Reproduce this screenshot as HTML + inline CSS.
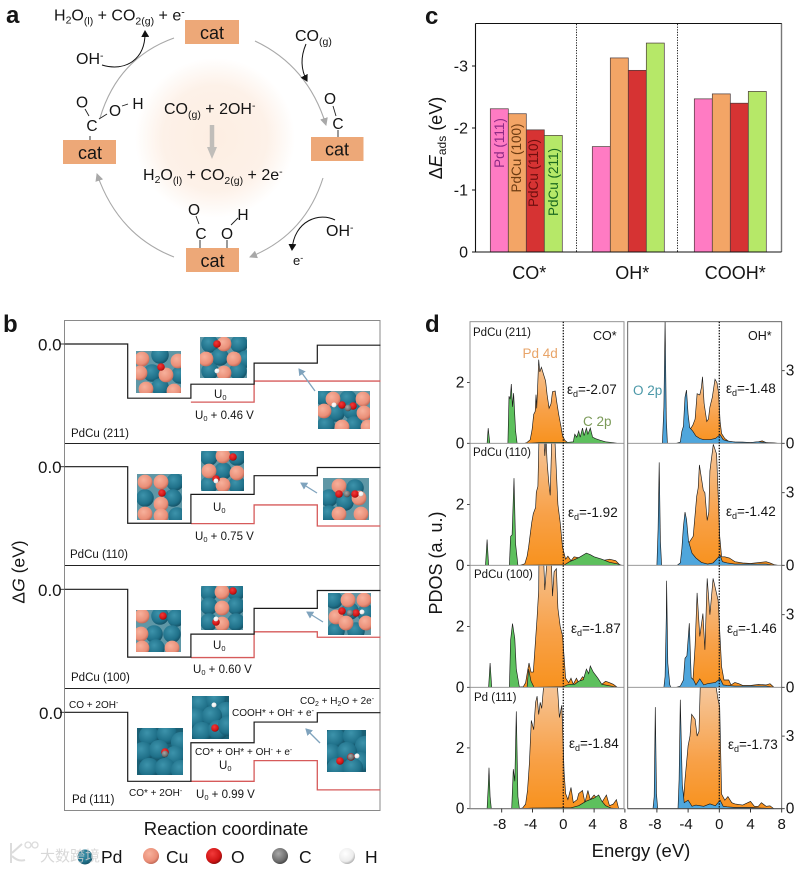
<!DOCTYPE html>
<html lang="en"><head><meta charset="utf-8"><title>CO oxidation on Pd and PdCu surfaces</title>
<style>
html,body{margin:0;padding:0;background:#fff}
svg{display:block;font-family:"Liberation Sans","Noto Sans CJK SC",sans-serif}
text{fill:#151515}
</style></head><body>
<svg id="fig" xmlns="http://www.w3.org/2000/svg" width="809" height="869" viewBox="0 0 809 869">
<defs>
<radialGradient id="glow"><stop offset="0" stop-color="#fdeee2"/><stop offset=".65" stop-color="#fdf1e8"/><stop offset="1" stop-color="#ffffff"/></radialGradient>
<linearGradient id="orangeFill" x1="0" y1="0" x2="0" y2="1"><stop offset="0" stop-color="#f5c79c"/><stop offset=".6" stop-color="#f8a148"/><stop offset="1" stop-color="#f8921e"/></linearGradient>
<radialGradient id="atomPd" cx=".4" cy=".35" r=".7"><stop offset="0" stop-color="#3d93ab"/><stop offset=".7" stop-color="#1f7089"/><stop offset="1" stop-color="#124c60"/></radialGradient>
<radialGradient id="atomCu" cx=".4" cy=".35" r=".7"><stop offset="0" stop-color="#f7b19c"/><stop offset=".7" stop-color="#ea8f78"/><stop offset="1" stop-color="#b9604f"/></radialGradient>
<radialGradient id="atomO" cx=".4" cy=".35" r=".7"><stop offset="0" stop-color="#f23a3a"/><stop offset=".7" stop-color="#d01414"/><stop offset="1" stop-color="#7d0a0a"/></radialGradient>
<radialGradient id="atomC" cx=".4" cy=".35" r=".7"><stop offset="0" stop-color="#a8a8a8"/><stop offset=".7" stop-color="#6d6d6d"/><stop offset="1" stop-color="#3c3c3c"/></radialGradient>
<radialGradient id="atomH" cx=".4" cy=".35" r=".7"><stop offset="0" stop-color="#ffffff"/><stop offset=".7" stop-color="#ececec"/><stop offset="1" stop-color="#a2a2a2"/></radialGradient>
<marker id="grayHead" markerWidth="9" markerHeight="8" refX="7" refY="4" orient="auto" markerUnits="userSpaceOnUse"><path d="M0,0L8,4L0,8Z" fill="#a8a8a8"/></marker>
<marker id="blackHead" markerWidth="8" markerHeight="8" refX="6" refY="4" orient="auto" markerUnits="userSpaceOnUse"><path d="M0,0L7,4L0,8Z" fill="#111"/></marker>
<marker id="blueHead" markerWidth="8" markerHeight="8" refX="6" refY="4" orient="auto" markerUnits="userSpaceOnUse"><path d="M0,0L7,4L0,8Z" fill="#7fa3bd"/></marker>
</defs>

<!-- PANEL A -->
<g id="panel-a">
<text x="6" y="23" font-size="24" font-weight="bold">a</text>
<circle cx="215" cy="138" r="80" fill="url(#glow)"/>
<path d="M174,38Q118,58 100,118" fill="none" stroke="#a8a8a8" stroke-width="1.1"/>
<path d="M174,257Q118,235 97,174" fill="none" stroke="#a8a8a8" stroke-width="1.1" marker-end="url(#grayHead)"/>
<path d="M255,41Q308,66 326,125" fill="none" stroke="#a8a8a8" stroke-width="1.1" marker-end="url(#grayHead)"/>
<path d="M323,178Q305,235 250,257" fill="none" stroke="#a8a8a8" stroke-width="1.1" marker-end="url(#grayHead)"/>
<path d="M102,65C125,72 146,60 145,31" fill="none" stroke="#111" stroke-width="1" marker-end="url(#blackHead)"/>
<path d="M306,44C300,58 301,70 307,81" fill="none" stroke="#111" stroke-width="1" marker-end="url(#blackHead)"/>
<path d="M335,220C320,212 294,220 292,250" fill="none" stroke="#111" stroke-width="1" marker-end="url(#blackHead)"/>
<path d="M212,125V148" stroke="#c0bdb9" stroke-width="4.5" fill="none"/>
<path d="M207,147h10l-5,12z" fill="#c0bdb9"/>
<g fill="#eda878">
<rect x="185" y="20" width="54" height="24"/>
<rect x="63" y="140" width="53" height="24"/>
<rect x="311" y="137" width="52.500" height="24"/>
<rect x="186" y="248" width="53" height="24"/>
</g>
<g font-size="18" text-anchor="middle">
<text x="212" y="39">cat</text>
<text x="90" y="159">cat</text>
<text x="337" y="155.500">cat</text>
<text x="212.500" y="267">cat</text>
</g>
<text x="54" y="20.500" font-size="16">H<tspan dy="3" font-size="10.500">2</tspan><tspan dy="-3">O</tspan><tspan dy="4" font-size="10.500">(l)</tspan><tspan dy="-4"> + CO</tspan><tspan dy="4" font-size="10.500">2(g)</tspan><tspan dy="-4"> + e</tspan><tspan dy="-5" font-size="10.500">-</tspan></text>
<text x="76" y="64" font-size="16">OH<tspan dy="-5" font-size="10.500">-</tspan></text>
<text x="295" y="41" font-size="16">CO<tspan dy="4" font-size="10.500">(g)</tspan></text>
<text x="326" y="236" font-size="16">OH<tspan dy="-5" font-size="10.500">-</tspan></text>
<text x="293" y="265" font-size="13">e<tspan dy="-4" font-size="9">-</tspan></text>
<text x="164" y="114" font-size="16">CO<tspan dy="4" font-size="10.500">(g)</tspan><tspan dy="-4"> + 2OH</tspan><tspan dy="-5" font-size="10.500">-</tspan></text>
<text x="143" y="180" font-size="16">H<tspan dy="3" font-size="10.500">2</tspan><tspan dy="-3">O</tspan><tspan dy="4" font-size="10.500">(l)</tspan><tspan dy="-4"> + CO</tspan><tspan dy="4" font-size="10.500">2(g)</tspan><tspan dy="-4"> + 2e</tspan><tspan dy="-5" font-size="10.500">-</tspan></text>
<g font-size="15.500" text-anchor="middle">
<text x="82" y="107.500">O</text><text x="92" y="131">C</text><text x="115" y="116">O</text><text x="138" y="109">H</text>
<path d="M85,109L89,116M90,136V140M99,119L107,114M122,106L128,104" stroke="#222" stroke-width=".9" fill="none"/>
</g>
<g font-size="15.500" text-anchor="middle">
<text x="330" y="104" >O</text><text x="338" y="129">C</text>
<path d="M333,106L336,116M338,130V137" stroke="#222" stroke-width=".9" fill="none"/>
</g>
<g font-size="15.500" text-anchor="middle">
<text x="194" y="215">O</text><text x="201" y="239">C</text><text x="227" y="239">O</text><text x="243" y="220">H</text>
<path d="M196,216L199,224M200,240V248M227,240V248M231,225L238,218" stroke="#222" stroke-width=".9" fill="none"/>
</g>
</g>

<!-- PANEL C -->
<g id="panel-c">
<text x="425" y="24" font-size="24" font-weight="bold">c</text>
<path d="M475.500,23.500H781.500V252" fill="none" stroke="#111" stroke-width="1"/>
<path d="M781.500,23.500V252" stroke="#777" stroke-width="1.4"/>
<g id="barLayer"></g>
<path d="M475.500,23.500V252H781.500" fill="none" stroke="#111" stroke-width="1.1"/>
<path d="M576.500,24V252M677.500,24V252" stroke="#111" stroke-width=".9" stroke-dasharray="1.300 1.300"/>
<g id="barTicks"></g>
<text transform="translate(442,138) rotate(-90)" text-anchor="middle" font-size="18">Δ<tspan font-style="italic">E</tspan><tspan dy="4" font-size="12">ads</tspan><tspan dy="-4"> (eV)</tspan></text>
<text transform="translate(504,143) rotate(-90)" text-anchor="middle" font-size="13.500" style="fill:#8f2a86">Pd (111)</text>
<text transform="translate(521,158) rotate(-90)" text-anchor="middle" font-size="13.500" style="fill:#6e3c12">PdCu (100)</text>
<text transform="translate(538,173) rotate(-90)" text-anchor="middle" font-size="13.500" style="fill:#6e0f0f">PdCu (110)</text>
<text transform="translate(558,182) rotate(-90)" text-anchor="middle" font-size="13.500" style="fill:#1c6a20">PdCu (211)</text>
</g>

<!-- PANEL B -->
<g id="panel-b">
<text x="3" y="332" font-size="24" font-weight="bold">b</text>
<g id="energyFrames"></g>
<g id="energyLayer"></g>
<g id="insetLayer"></g>
<g stroke="#7fa3bd" stroke-width="1.300" fill="none">
<path d="M315,391L299,369" marker-end="url(#blueHead)"/>
<path d="M317,493L301,483" marker-end="url(#blueHead)"/>
<path d="M323,622L307,612" marker-end="url(#blueHead)"/>
<path d="M320,743L306,729" marker-end="url(#blueHead)"/>
</g>
<g font-size="11.500">
<text x="71" y="437">PdCu (211)</text>
<text x="70" y="558">PdCu (110)</text>
<text x="71" y="681">PdCu (100)</text>
<text x="72" y="803">Pd (111)</text>
<text x="214" y="398">U<tspan dy="2" font-size="7.500">0</tspan></text>
<text x="195" y="419">U<tspan dy="2" font-size="7.500">0</tspan><tspan dy="-2"> + 0.46 V</tspan></text>
<text x="213" y="511">U<tspan dy="2" font-size="7.500">0</tspan></text>
<text x="195" y="540">U<tspan dy="2" font-size="7.500">0</tspan><tspan dy="-2"> + 0.75 V</tspan></text>
<text x="213" y="649">U<tspan dy="2" font-size="7.500">0</tspan></text>
<text x="193" y="673">U<tspan dy="2" font-size="7.500">0</tspan><tspan dy="-2"> + 0.60 V</tspan></text>
<text x="219" y="769">U<tspan dy="2" font-size="7.500">0</tspan></text>
<text x="196" y="798">U<tspan dy="2" font-size="7.500">0</tspan><tspan dy="-2"> + 0.99 V</tspan></text>
</g>
<g font-size="10">
<text x="69" y="708">CO + 2OH<tspan dy="-3" font-size="7">-</tspan></text>
<text x="129" y="796">CO* + 2OH<tspan dy="-3" font-size="7">-</tspan></text>
<text x="195" y="755">CO* + OH* + OH<tspan dy="-3" font-size="7">-</tspan><tspan dy="3"> + e</tspan><tspan dy="-3" font-size="7">-</tspan></text>
<text x="232" y="716">COOH* + OH<tspan dy="-3" font-size="7">-</tspan><tspan dy="3"> + e</tspan><tspan dy="-3" font-size="7">-</tspan></text>
<text x="300" y="704">CO<tspan dy="2" font-size="7">2</tspan><tspan dy="-2"> + H</tspan><tspan dy="2" font-size="7">2</tspan><tspan dy="-2">O + 2e</tspan><tspan dy="-3" font-size="7">-</tspan></text>
</g>
<text transform="translate(24.500,572) rotate(-90)" text-anchor="middle" font-size="17.500">Δ<tspan font-style="italic">G</tspan> (eV)</text>
<text x="226" y="835" text-anchor="middle" font-size="18.500">Reaction coordinate</text>
</g>

<!-- ATOM LEGEND -->
<g id="atom-legend">
<circle cx="85" cy="857" r="7.500" fill="url(#atomPd)"/>
<circle cx="151" cy="856" r="8" fill="url(#atomCu)"/>
<circle cx="214" cy="856" r="8" fill="url(#atomO)"/>
<circle cx="280" cy="856" r="8" fill="url(#atomC)"/>
<circle cx="347" cy="856" r="8" fill="url(#atomH)"/>
<g font-size="17.500">
<text x="101" y="863">Pd</text>
<text x="166" y="863">Cu</text>
<text x="231" y="863">O</text>
<text x="299" y="863">C</text>
<text x="365" y="863">H</text>
</g>
<text x="40" y="861" font-size="15" style="fill:#cfcfcf;opacity:.8">大数跨境</text>
<path d="M11,843v20M12,856q6,6 13,4M12,853l10,-9" fill="none" stroke="#dcdcdc" stroke-width="2"/>
<circle cx="28" cy="845" r="3" fill="none" stroke="#dcdcdc" stroke-width="1.300"/>
<circle cx="35" cy="845" r="3" fill="none" stroke="#dcdcdc" stroke-width="1.300"/>
</g>

<!-- PANEL D -->
<g id="panel-d">
<text x="425" y="332" font-size="24" font-weight="bold">d</text>
<g id="pdosLayer"></g>
<g id="pdosAxes"></g>
<g font-size="11.500">
<text x="473" y="336">PdCu (211)</text>
<text x="473" y="456">PdCu (110)</text>
<text x="474" y="578">PdCu (100)</text>
<text x="474" y="701">Pd (111)</text>
</g>
<text x="593" y="340" font-size="12.500">CO*</text>
<text x="748" y="340" font-size="12.500">OH*</text>
<text x="522.500" y="358" font-size="13.500" style="fill:#e8a468">Pd 4d</text>
<text x="583" y="426" font-size="13.500" style="fill:#7b9a58">C 2p</text>
<text x="633" y="395" font-size="13.500" style="fill:#4b98a8">O 2p</text>
<g font-size="13.500">
<text x="567" y="394">ε<tspan dy="3" font-size="9">d</tspan><tspan dy="-3">=-2.07</tspan></text>
<text x="568" y="517">ε<tspan dy="3" font-size="9">d</tspan><tspan dy="-3">=-1.92</tspan></text>
<text x="571" y="633">ε<tspan dy="3" font-size="9">d</tspan><tspan dy="-3">=-1.87</tspan></text>
<text x="569" y="748">ε<tspan dy="3" font-size="9">d</tspan><tspan dy="-3">=-1.84</tspan></text>
<text x="726" y="393">ε<tspan dy="3" font-size="9">d</tspan><tspan dy="-3">=-1.48</tspan></text>
<text x="726" y="516">ε<tspan dy="3" font-size="9">d</tspan><tspan dy="-3">=-1.42</tspan></text>
<text x="727" y="633">ε<tspan dy="3" font-size="9">d</tspan><tspan dy="-3">=-1.46</tspan></text>
<text x="728" y="749">ε<tspan dy="3" font-size="9">d</tspan><tspan dy="-3">=-1.73</tspan></text>
</g>
<text transform="translate(442,563) rotate(-90)" text-anchor="middle" font-size="18">PDOS (a. u.)</text>
<text x="641" y="857" text-anchor="middle" font-size="18.500">Energy (eV)</text>
</g>
</svg>
<script>
/* ---- Panel c data ---- */
const barCategories = ['CO*', 'OH*', 'COOH*'];
const barTickValues = [0, -1, -2, -3];
const barColors = ['#ff7bc3', '#f3a566', '#d63333', '#b6e868'];
const adsorptionCO = [-2.31, -2.23, -1.97, -1.88];
const adsorptionOH = [-1.70, -3.13, -2.93, -3.37];
const adsorptionCOOH = [-2.47, -2.55, -2.40, -2.59];

/* ---- Panel b data (eV per state; U in V) ---- */
const energyLevels211 = [0, -1.39, -1.03, -0.49, -0.03];
const energyLevels110 = [0, -1.45, -0.71, -0.23, -0.02];
const energyLevels100 = [0, -1.74, -1.15, -0.49, -0.03];
const energyLevels111 = [0, -1.77, -0.78, -0.25, -0.01];
const limitingPotentials = [0.46, 0.75, 0.60, 0.99];
const energyTickLabel = '0.0';

/* ---- Panel d data: [energy eV, PDOS] ---- */
const coPd211 = [[-5,0],[-4.7,.03],[-4.3,.12],[-4.05,.45],[-3.85,.95],[-3.65,1.05],[-3.55,1.6],[-3.45,1.15],[-3.35,1.75],[-3.2,2.75],[-3.05,2.35],[-2.85,2.5],[-2.55,2.25],[-2.3,2.05],[-2.1,1.6],[-1.85,1.15],[-1.6,1.3],[-1.4,1.7],[-1.05,1.72],[-.85,1.35],[-.6,.95],[-.3,.55],[-.1,.25],[.2,.1],[.6,.02],[.8,0]];
const coC211 = [[-9.9,0],[-9.75,.5],[-9.55,0],[-7.2,0],[-7.05,1.55],[-6.9,1.45],[-6.75,1.95],[-6.6,1.2],[-6.45,1.65],[-6.2,.4],[-6,0],[-4.5,0],[-3,.03],[.5,.03],[1.3,.05],[1.5,.3],[1.75,.2],[2,.4],[2.2,.2],[2.5,.5],[2.7,.25],[3,.5],[3.2,.3],[3.5,.5],[3.8,.2],[4.2,.15],[4.8,.1],[5.5,.05],[6.5,.02],[7,0]];
const coPd110 = [[-5.6,0],[-5,.05],[-4.7,.3],[-4.5,.6],[-4.1,1.4],[-3.9,1.7],[-3.6,1.9],[-3.5,2.4],[-3.3,2.6],[-3.15,4.2],[-2.5,4.2],[-2.4,3.6],[-2.25,4.2],[-2.1,3.4],[-1.9,2.75],[-1.7,2.3],[-1.5,4.2],[-1.1,4.2],[-.7,2],[-.4,1.4],[-.1,.6],[.3,.2],[.6,.3],[1,.15],[1.4,.28],[2,.25],[3,.3],[4,.2],[5,.15],[6,.2],[6.8,.15],[7.4,0]];
const coC110 = [[-10.1,0],[-9.9,.85],[-9.7,0],[-7,0],[-6.85,.95],[-6.65,1],[-6.4,2.87],[-6.2,.7],[-5.9,0],[.2,.02],[.8,.12],[1.4,.18],[2,.25],[3,.4],[3.5,.35],[4,.28],[5,.2],[6,.1],[7,.05],[7.6,0]];
const coPd100 = [[-6.2,0],[-5.2,.02],[-4.9,.15],[-4.6,.6],[-4.45,.8],[-4.2,.5],[-3.9,.5],[-3.7,1.2],[-3.4,2.3],[-3.2,3.2],[-3.15,4.5],[-2.6,4.5],[-2.4,3.2],[-2.2,3.9],[-2,4.5],[-1.6,4.5],[-1.4,3],[-1.2,3.8],[-.9,3.9],[-.7,2.6],[-.4,2],[-.1,1.7],[.1,1],[.3,.3],[.7,.15],[1,.3],[1.3,.1],[1.7,.3],[2,.15],[2.5,.35],[3,.25],[3.5,.3],[4,.15],[4.5,.1],[5,.1],[5.5,.2],[6,.15],[6.5,.1],[7,0]];
const coC100 = [[-9.7,0],[-9.5,.8],[-9.3,0],[-7,0],[-6.85,1.55],[-6.6,2.1],[-6.3,1.6],[-6.1,.6],[-5.7,0],[-4.7,0],[-4.5,.6],[-4.2,.2],[-3.8,0],[0,.02],[.5,.08],[1,.1],[1.5,.1],[2,.2],[2.6,.25],[3,.6],[3.3,.45],[3.5,.7],[3.9,.5],[4.5,.3],[5,.1],[6,.05],[7,0]];
const coPd111 = [[-6,0],[-5.3,.02],[-4.9,.15],[-4.65,.6],[-4.4,1.5],[-4.15,2.9],[-3.85,2.6],[-3.6,3.5],[-3.4,3.7],[-3.2,3.1],[-3,3.5],[-2.8,3.3],[-2.6,3.9],[-2.4,4.2],[-.8,4.2],[-.5,3],[-.2,3.4],[.1,1.2],[.3,.5],[.6,.3],[1,.7],[1.3,.2],[1.8,.3],[2,.5],[2.5,.6],[2.8,.2],[3.2,.6],[3.5,.3],[4,.45],[4.5,.3],[5,.2],[5.6,.45],[6,.1],[6.5,.15],[6.9,.3],[7.2,0]];
const coC111 = [[-9.9,0],[-9.75,.7],[-9.65,1.35],[-9.5,.4],[-9.35,0],[-6.7,0],[-6.5,1.3],[-6.3,.9],[-6.1,3.2],[-5.9,.4],[-5.7,0],[-4,.02],[0,.03],[1,.03],[2,.1],[3,.25],[4,.35],[4.6,.45],[5,.25],[5.5,.1],[6.2,.02],[7,0]];
const ohPd211 = [[-4.1,0],[-3.8,.55],[-3.4,.75],[-3.1,1],[-2.85,2.05],[-2.5,2],[-2.3,2.3],[-2.15,2.75],[-1.95,1.65],[-1.6,.9],[-1.4,1],[-1.2,1.5],[-.9,1.9],[-.55,2.65],[-.3,2.5],[-.1,2.1],[.1,.9],[.3,.4],[.7,.2],[1.2,.08],[2,.05],[3,.05],[4,.03],[5,.06],[5.5,.1],[6,.03],[7,.02],[7.5,0]];
const ohO211 = [[-7.3,0],[-7.1,1.5],[-6.95,5.1],[-6.8,1],[-6.65,0],[-5.5,0],[-5,.05],[-4.8,.5],[-4.6,.7],[-4.4,1.9],[-4.2,2.2],[-4,1.2],[-3.8,.65],[-3.4,.5],[-3,.3],[-2.5,.2],[-2,.15],[-1.2,.15],[-.5,.2],[.1,.35],[.5,.15],[1,.1],[2,.05],[4,.03],[5,.06],[6,.03],[7,0]];
const ohPd110 = [[-4.2,0],[-3.95,.9],[-3.35,1.2],[-2.9,2.85],[-2.7,3.2],[-2.55,4.15],[-2.25,3.5],[-2.05,3.1],[-1.85,3],[-1.55,1.85],[-1.35,2.2],[-1.2,3.9],[-.77,5],[-.34,4.6],[-.1,2.5],[.05,1.2],[.3,.35],[.7,.35],[1.3,.3],[2,.15],[3,.1],[4,.08],[6,.15],[6.5,.1],[7,.03],[7.5,0]];
const ohO110 = [[-8,0],[-7.85,1.5],[-7.7,4.25],[-7.55,1],[-7.4,0],[-5.4,0],[-5,.1],[-4.8,.7],[-4.6,1.6],[-4.4,2.2],[-4.2,1.9],[-3.95,1],[-3.5,.5],[-3,.3],[-2.3,.12],[-1.5,.05],[-.8,.1],[-.2,.3],[.1,.42],[.4,.15],[1,.1],[2,.05],[4,.05],[6,.05],[7,0]];
const ohPd100 = [[-4,0],[-3.4,.2],[-3.1,1.7],[-2.85,3.9],[-2.5,2.1],[-2.1,3.05],[-1.85,1.55],[-1.55,4.5],[-1.2,3],[-.8,4.5],[-.15,3.6],[.3,.85],[.6,.3],[1.2,.3],[1.5,.1],[2,.2],[2.5,.15],[3,.08],[4,.08],[5,.12],[6,.1],[6.5,.15],[7,0]];
const ohO100 = [[-7.1,0],[-6.95,.45],[-6.8,2.9],[-6.75,4.4],[-6.6,1],[-6.35,.1],[-6.2,0],[-5.5,0],[-5,.05],[-4.6,.3],[-4.4,1.2],[-4.15,1.3],[-3.85,2.65],[-3.6,.4],[-3.3,.3],[-3,.1],[-2.5,.35],[-2,.1],[-1.5,.15],[-.5,.2],[.1,.35],[.5,.1],[1,.08],[2,.05],[4,.05],[6,.05],[7,0]];
const ohPd111 = [[-4.8,0],[-4.6,.3],[-4.4,1.2],[-4,2.6],[-3.75,3],[-3.55,3.9],[-3.1,3.7],[-2.85,3],[-2.6,3.2],[-2.45,5],[-.4,5],[-.15,4.5],[.05,4.2],[.3,.6],[.7,.35],[1.1,.5],[1.6,.25],[2,.2],[3,.15],[4,.3],[4.5,.1],[5,.1],[5.4,.25],[6,.1],[6.5,.12],[7,0]];
const ohO111 = [[-8.5,0],[-8.35,.5],[-8.2,4.2],[-8.05,.6],[-7.9,0],[-5.3,0],[-5.15,1.2],[-5,4.5],[-4.75,1],[-4.5,.25],[-4,.35],[-3.5,.1],[-3,.15],[-2,.1],[-1.2,.2],[-.5,.12],[.1,.35],[.5,.1],[1,.08],[2,.05],[4,.05],[7,0]];
const pdosEnergyTicks = [-8, -4, 0, 4, 8];
const pdosLeftTicks = [0, 2];
const pdosRightTicks = [0, 3];

const NS = 'http://www.w3.org/2000/svg';
function mk(parent, tag, attrs, text) {
  const el = document.createElementNS(NS, tag);
  for (const k in attrs) el.setAttribute(k, attrs[k]);
  if (text !== undefined) el.textContent = text;
  parent.appendChild(el);
  return el;
}
const $ = id => document.getElementById(id);

/* ---- Panel c ---- */
const barY = v => 252 + 62 * v;
const barGroupX = i => 490.3 + i * 102;
const barW = 18;
[adsorptionCO, adsorptionOH, adsorptionCOOH].forEach((series, g) => {
  series.forEach((v, i) => {
    const el = mk($('barLayer'), 'rect', {x: barGroupX(g) + i * barW, y: barY(v), width: barW, height: barY(0) - barY(v), fill: barColors[i], stroke: '#4a3a3a', 'stroke-width': .7});
    
    
  });
  const lab = mk($('barTicks'), 'text', {x: barGroupX(g) + 2 * barW + 3 + g, y: 279, 'text-anchor': 'middle', 'font-size': 18}, barCategories[g]);
  
  
});
barTickValues.forEach(v => {
  const t = mk($('barTicks'), 'path', {d: `M472,${barY(v)}H475.5`, stroke: '#111', 'stroke-width': 1});
  
  
  const l = mk($('barTicks'), 'text', {x: 468, y: barY(v) + 5.5, 'text-anchor': 'end', 'font-size': 16}, String(v));
  
  
});

/* ---- Panel b ---- */
const rowFrameTops = [320.5, 443.5, 565.5, 688.5];
const rowFrameBottom = 810.5;
const rowZeros = [344, 466.7, 589.3, 712.3];
const stateX = i => 64.5 + i * 63.2;
const energyAt = (row, e) => rowZeros[row] - 39 * e;
[energyLevels211, energyLevels110, energyLevels100, energyLevels111].forEach((levels, row) => {
  const frame = mk($('energyFrames'), 'path', {d: `M64.5,${rowFrameTops[row]}H380`, stroke: '#222', 'stroke-width': .9, fill: 'none'});
  
  
  const tick = mk($('energyFrames'), 'path', {d: `M60,${rowZeros[row]}H64.5`, stroke: '#222', 'stroke-width': .9});
  
  
  const label = mk($('energyFrames'), 'text', {x: 38 + (row === 3 ? 1 : 0), y: rowZeros[row] + 6.5, 'font-size': 17}, energyTickLabel);
  
  
  const U = limitingPotentials[row];
  const shifts = [0, 0, 1, 1, 2];
  let red = '';
  [2, 3, 4].forEach(i => {
    const y = energyAt(row, levels[i] - shifts[i] * U);
    red += (i === 2 ? 'M' : 'L') + stateX(i) + ',' + y + 'L' + stateX(i + 1) + ',' + y;
  });
  const redLine = mk($('energyLayer'), 'path', {d: red, fill: 'none', stroke: '#d65a5a', 'stroke-width': 1.3});
  
  
  let d = '';
  levels.forEach((e, i) => {
    const y = energyAt(row, e);
    d += (i === 0 ? 'M' : 'L') + stateX(i) + ',' + y + 'L' + stateX(i + 1) + ',' + y;
  });
  const line = mk($('energyLayer'), 'path', {d: d, fill: 'none', stroke: '#1a1a1a', 'stroke-width': 1.2});
  
  
});
const frameOuter = mk($('energyFrames'), 'rect', {x: 64.5, y: 320.5, width: 315.5, height: rowFrameBottom - 320.5, fill: 'none', stroke: '#8a8a8a', 'stroke-width': 1});



/* ---- Insets (illustrative atom renderings) ---- */
const R = {P: 8.8, U: 7.4, O: 3.8, C: 3.3, H: 2.5};
const atomFill = {P: 'url(#atomPd)', U: 'url(#atomCu)', O: 'url(#atomO)', C: 'url(#atomC)', H: 'url(#atomH)'};
const insets = [
  [136,351,45,42,'U6,8 P24,4 U42,10 U4,22 P16,22 U30,24 P44,24 U10,38 P24,36 U38,40 O25,16'],
  [200,337,47,41,'P10,7 U24,7 P39,7 U6,22 P20,20 U34,22 P46,22 P10,34 U24,36 P38,34 O17,7 H17,34'],
  [318,391,52,38,'P6,6 U15,8 P30,8 U45,8 U6,20 P18,22 P34,20 U46,22 P8,34 U24,36 P36,34 U50,36 O24,14 C30,17 O35,15 H16,14'],
  [137,474,45,46,'U8,8 U24,8 P38,8 P8,24 P36,24 U24,30 U8,40 U24,42 P40,42 O25,19 '],
  [201,451,43,40,'P8,6 U22,5 P36,6 U8,20 P22,20 U36,22 P8,34 U22,34 P36,34 O32,6 H15,30 O15,28'],
  [323,478,46,42,'U16,8 P32,10 P6,20 U36,20 P22,24 U16,36 U38,36 P6,36 O16,16 C24,16 O32,16 H38,16'],
  [136,610,45,42,'U6,6 P24,6 P40,8 U5,24 P18,24 P36,24 U6,38 P20,38 U36,38 O27,6'],
  [201,586,42,44,'P8,6 U21,6 P35,6 U21,22 P8,20 P35,20 P8,36 U21,38 P35,36 O32,5 H15,33 O15,36'],
  [328,593,43,42,'P6,7 U20,7 U36,7 U8,24 P22,18 P38,20 U18,30 U38,30 P8,38 P28,38 O14,18 C22,20 O28,20 H34,19'],
  [137,728,46,47,'P12,8 P30,6 P44,14 P6,24 P22,22 P38,28 P12,40 P28,40 P44,42 C28,26 O28,24'],
  [192,696,37,43,'P8,8 P24,4 P34,16 P4,22 P20,20 P10,36 P26,34 P36,30 H22,9 O23,32'],
  [327,730,39,42,'P8,8 P26,6 P38,16 P4,24 P20,22 P34,32 P10,38 P26,38 C24,27 O13,31 O24,27 H30,26']
];
insets.forEach((ins, n) => {
  const [x, y, w, h, spec] = ins;
  const clipId = 'insetClip' + n;
  const defs = mk($('insetLayer'), 'clipPath', {id: clipId});
  mk(defs, 'rect', {x: x, y: y, width: w, height: h});
  const g = mk($('insetLayer'), 'g', {'clip-path': `url(#${clipId})`});
  
  
  mk(g, 'rect', {x: x, y: y, width: w, height: h, fill: n >= 9 ? '#1a6075' : '#5f97a6'});
  const grow = n >= 9 ? 1.15 : 1;
  spec.trim().split(' ').map(s => ({k: s[0], p: s.slice(1).split(',').map(Number)}))
    .sort((a, b) => R[b.k] - R[a.k])
    .forEach(a => mk(g, 'circle', {cx: x + a.p[0], cy: y + a.p[1], r: R[a.k] * (R[a.k] > 5 ? grow : 1), fill: atomFill[a.k]}));
});

/* ---- Panel d ---- */
const colLeft = [470, 627.7];
const colRight = [624, 781.7];
const rowBases = [443.3, 565.3, 687.3, 808.7];
const rowTops = [321.7, 443.3, 565.3, 687.3];
const pdosX = [e => 563.3 + 7.7 * e, e => 719.3 + 7.8 * e];
const pdosY = [(r, v) => rowBases[r] - 30.4 * v, (r, v) => rowBases[r] - 24.2 * v];
const pdosSeries = [
  [[coPd211, coC211], [coPd110, coC110], [coPd100, coC100], [coPd111, coC111]],
  [[ohPd211, ohO211], [ohPd110, ohO110], [ohPd100, ohO100], [ohPd111, ohO111]]
];
const adsorbateFill = ['#5dc05d', '#4fa6dc'];
pdosSeries.forEach((col, c) => {
  col.forEach((pair, r) => {
    const clipId = 'pdosClip' + c + r;
    const cp = mk($('pdosLayer'), 'clipPath', {id: clipId});
    mk(cp, 'rect', {x: colLeft[c], y: rowTops[r], width: colRight[c] - colLeft[c], height: rowBases[r] - rowTops[r]});
    const g = mk($('pdosLayer'), 'g', {'clip-path': `url(#${clipId})`});
    pair.forEach((pts, s) => {
      const line = pts.map(p => pdosX[c](p[0]).toFixed(1) + ',' + pdosY[c](r, p[1]).toFixed(1)).join('L');
      const base = rowBases[r];
      const area = mk(g, 'path', {d: `M${pdosX[c](pts[0][0]).toFixed(1)},${base}L${line}L${pdosX[c](pts[pts.length - 1][0]).toFixed(1)},${base}Z`, fill: s === 0 ? 'url(#orangeFill)' : adsorbateFill[c], stroke: 'none'});
      
      
      const outline = mk(g, 'path', {d: 'M' + line, fill: 'none', stroke: '#1a1a1a', 'stroke-width': .65});
      
      
    });
    const baseLine = mk($('pdosAxes'), 'path', {d: `M${colLeft[c]},${rowBases[r]}H${colRight[c]}`, stroke: r === 3 ? '#222' : '#8c8c8c', 'stroke-width': .9});
    
    
    (c === 0 ? pdosLeftTicks : pdosRightTicks).forEach(v => {
      const y = pdosY[c](r, v);
      const tx = c === 0 ? colLeft[0] - 3 : colRight[1] + 3;
      const tk = mk($('pdosAxes'), 'path', {d: `M${c === 0 ? colLeft[0] : colRight[1]},${y}H${tx}`, stroke: '#222', 'stroke-width': .8});
      
      
      const lb = mk($('pdosAxes'), 'text', {x: c === 0 ? 460 : 790, y: y + 5, 'text-anchor': 'middle', 'font-size': 15.5}, String(v));
      
      
    });
  });
  const frame = mk($('pdosAxes'), 'rect', {x: colLeft[c], y: 321.7, width: colRight[c] - colLeft[c], height: 808.7 - 321.7, fill: 'none', stroke: c === 0 ? '#888' : '#555', 'stroke-width': .9});
  
  
  const zero = mk($('pdosAxes'), 'path', {d: `M${pdosX[c](0)},321.7V808.7`, stroke: '#111', 'stroke-width': 1.3, 'stroke-dasharray': '1.4 1.4'});
  
  
  pdosEnergyTicks.forEach(e => {
    const tk = mk($('pdosAxes'), 'path', {d: `M${pdosX[c](e)},808.7V812.5`, stroke: '#222', 'stroke-width': .9});
    
    
    const lb = mk($('pdosAxes'), 'text', {x: pdosX[c](e) - (e < 0 ? 2 : (c === 0 && e > 0 ? 1.5 : 0)), y: 829, 'text-anchor': 'middle', 'font-size': 15}, String(e));
    
    
  });
});
</script>
</body></html>
